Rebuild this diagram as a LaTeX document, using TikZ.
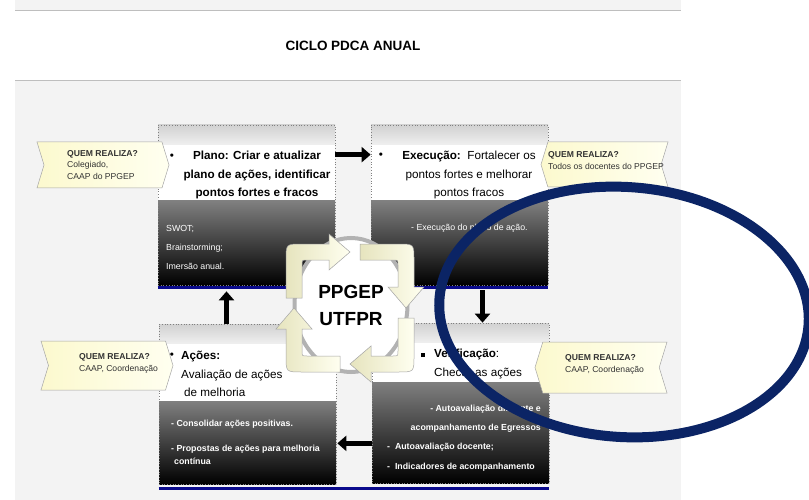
\documentclass[tikz,border=0pt]{standalone}
\usepackage{fontspec}
\setmainfont{Liberation Sans}
\usepackage{tikz}
\usetikzlibrary{arrows.meta}
\usetikzlibrary{shapes.geometric,shapes.symbols}
\definecolor{pagegray}{HTML}{F3F3F3}
\definecolor{rulegray}{HTML}{BEBEBE}
\definecolor{boxline}{HTML}{0A0A8C}
\definecolor{ringnavy}{HTML}{0B2465}
\definecolor{creamlight}{HTML}{FFFFF0}
\definecolor{creamdark}{HTML}{E6E4BE}
\definecolor{calloutlight}{HTML}{FFFFF0}
\definecolor{calloutdark}{HTML}{FCF9CE}
\tikzstyle{pdcabox} = [rectangle, draw=black!50, dotted, line width=0.7pt,
    minimum width=177pt, minimum height=160pt, inner sep=0pt]
\tikzstyle{quem} = [shape=signal, signal pointer angle=146, draw=black!35,
    line width=0.5pt, left color=calloutdark, right color=calloutlight,
    inner sep=0pt]
\tikzstyle{flow} = [line width=4.5pt, -{Triangle[length=9pt,width=15pt]}]
\tikzstyle{headtxt} = [inner sep=0pt, font=\fontsize{11.7}{18.5}\selectfont]
\tikzstyle{bodytxt} = [inner sep=0pt, text=white, align=left,
    font=\fontsize{8.8}{19}\selectfont]
\tikzstyle{quemtxt} = [inner sep=0pt, anchor=west, align=left, text=black!80,
    font=\fontsize{8.6}{11.5}\selectfont]
\tikzset{>={Latex[length=2mm,width=1.5mm]}}
% one bent arrow of the cycle, top left corner, centre at (0,0)
\newcommand{\bentarrow}{%
  \shadedraw[draw=black!35, line width=0.5pt, left color=creamdark, right color=creamlight]
    (-64,-10) -- (-64,-48) .. controls (-64,-64) .. (-48,-64) -- (-21,-64)
    -- (-21,-74) -- (0,-56) -- (-21,-38) -- (-21,-48) -- (-43,-48)
    .. controls (-48,-48) .. (-48,-43) -- (-48,-10) -- cycle;}

\begin{document}
\begin{tikzpicture}[x=1pt, y=-1pt]
\useasboundingbox (0,0) rectangle (809,500);
    %page
    \fill[pagegray] (15,0) rectangle (681,11);
    \fill[pagegray] (15,81) rectangle (681,500);
    \draw[rulegray, line width=1pt] (15,11) -- (681,11);
    \draw[rulegray, line width=1pt] (15,80.5) -- (681,80.5);
    \node[font=\bfseries\fontsize{13.5}{16}\selectfont] (titulo) at (353,46) {CICLO PDCA ANUAL};
    %box fills
    \foreach \bx/\by/\bs in {158/125/201, 371/125/201, 159/324/401, 372/323/382} {
        \shade[top color=black!18, bottom color=black!6] (\bx,\by) rectangle (\bx+177,\by+20);
        \fill[white] (\bx,\by+20) rectangle (\bx+177,\bs);
        \shade[top color=black!50, bottom color=black] (\bx,\bs) rectangle (\bx+177,\by+160);
    }
    %boxes
    \node[pdcabox] (plano) at (246.5,205) {};
    \node[pdcabox] (exec) at (459.5,205) {};
    \node[pdcabox] (acoes) at (247.5,404) {};
    \node[pdcabox] (verif) at (460.5,403) {};
    \draw[boxline, line width=3pt] ([yshift=-2.5pt]plano.south west) -- ([yshift=-2.5pt]exec.south east);
    \draw[boxline, line width=3pt] ([yshift=-4pt]acoes.south west) -- ([yshift=-5pt]verif.south east);
    %box titles
    \node[headtxt] at (172,157) {•};
    \node[headtxt, align=center, font=\bfseries\fontsize{11.7}{18.5}\selectfont] at (257,175)
        {Plano: Criar e atualizar\\plano de ações, identificar\\pontos fortes e fracos};
    \node[headtxt] at (381,156) {•};
    \node[headtxt, align=center] at (469,175)
        {\textbf{Execução:}\ \ Fortalecer os\\pontos fortes e melhorar\\pontos fracos};
    \node[headtxt] at (172,356) {•};
    \node[headtxt, align=left, anchor=west] at (181,374)
        {\textbf{Ações:}\\Avaliação de ações\\\hspace*{3pt}de melhoria};
    \node[headtxt] at (423,355) {\rule{4pt}{4pt}};
    \node[headtxt, align=left, anchor=west] at (434,364)
        {\textbf{Verificação}:\\Checar as ações};
    %box contents
    \node[bodytxt, anchor=west] at (166,247) {SWOT;\\Brainstorming;\\Imersão anual.};
    \node[bodytxt, anchor=west] at (411,228) {- Execução do plano de ação.};
    \node[bodytxt, anchor=west, font=\bfseries\fontsize{8.8}{13}\selectfont] at (171,442)
        {- Consolidar ações positivas.\\[12pt]- Propostas de ações para melhoria\\\hspace*{3pt}contínua};
    \node[bodytxt, anchor=east, align=right, font=\bfseries\fontsize{8.8}{19}\selectfont] at (541,418.5)
        {- Autoavaliação discente e\\acompanhamento de Egressos};
    \node[bodytxt, anchor=west, font=\bfseries\fontsize{8.8}{20}\selectfont] at (387,457)
        {-\ \ Autoavaliação docente;\\-\ \ Indicadores de acompanhamento};
    %flow arrows
    \coordinate (d1) at ([xshift=23pt,yshift=-5pt]exec.south);
    \coordinate (d2) at ([yshift=40pt]verif.south west);
    \coordinate (d3) at ([xshift=-21pt]acoes.north);
    \draw[flow] ([yshift=-30pt]plano.north east) -- ([yshift=-30pt]exec.north west);
    \draw[flow] (d1) -- (d1 |- verif.north);
    \draw[flow, shorten >=1pt] (d2) -- (d2 -| acoes.east);
    \draw[flow, shorten >=6pt] (d3) -- (d3 |- plano.south);
    %hub
    \node[ellipse, draw=black!30, line width=4pt, fill=white, minimum width=113pt,
        minimum height=134pt, align=center, font=\bfseries\fontsize{19}{27}\selectfont]
        (hub) at (351,305) {PPGEP\\UTFPR};
    \foreach \a in {0,-90,-180,-270} {
        \begin{scope}[shift={(350,308)}, rotate=\a]
            \bentarrow
        \end{scope}
    }
    %who does it
    \node[quem, signal from=west, signal to=east, minimum width=132pt, minimum height=46pt] (q1) at (103,165) {};
    \node[quemtxt] at (67,165) {\textbf{QUEM REALIZA?}\\Colegiado,\\CAAP do PPGEP};
    \node[quem, signal from=east, signal to=west, minimum width=127pt, minimum height=45pt] (q2) at (604.5,164.5) {};
    \node[quemtxt] at (548,160.5) {\textbf{QUEM REALIZA?}\\Todos os docentes do PPGEP};
    \node[quem, signal from=west, signal to=east, minimum width=132pt, minimum height=49pt] (q3) at (107,365.5) {};
    \node[quemtxt] at (79,363.5) {\textbf{QUEM REALIZA?}\\CAAP, Coordenação};
    \node[quem, signal from=east, signal to=west, minimum width=132pt, minimum height=51pt] (q4) at (601,367.5) {};
    \node[quemtxt] at (565,364.5) {\textbf{QUEM REALIZA?}\\CAAP, Coordenação};
    %ring
    \draw[ringnavy, line width=10pt, rotate around={-4:(624,312)}] (624,312) ellipse [x radius=185pt, y radius=125pt];
\end{tikzpicture}
\end{document}
